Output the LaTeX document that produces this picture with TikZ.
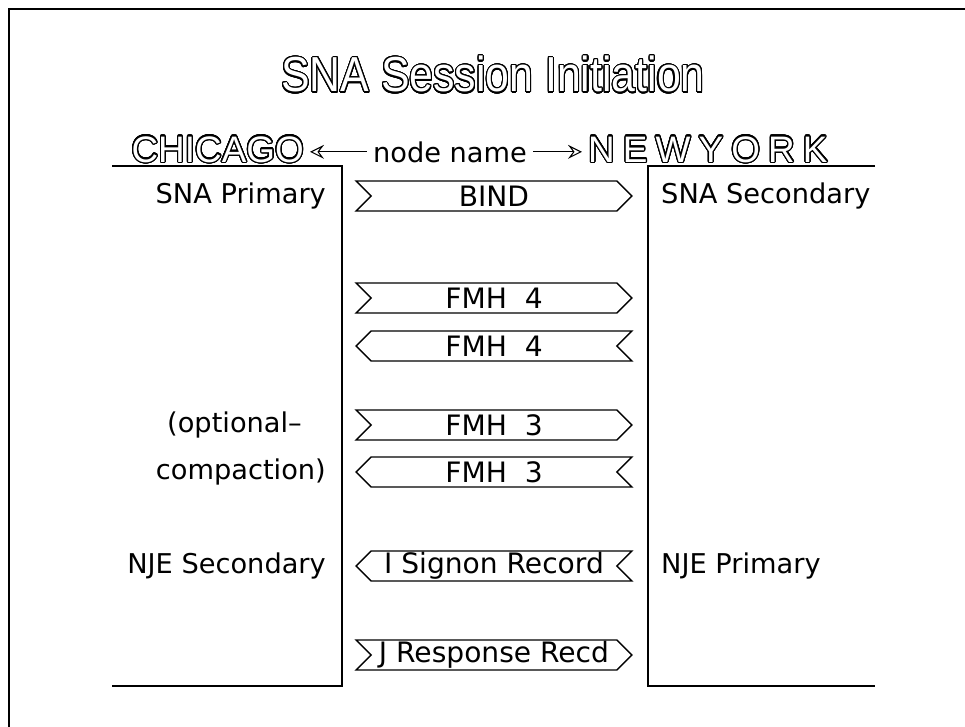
\documentclass[tikz,border=0pt]{standalone}
\usepackage{fontspec}
\setmainfont{DejaVu Sans}
\newfontfamily\headfont{Liberation Sans}
\newfontfamily\wideheadfont{Liberation Sans}[LetterSpace=22]
\usepackage{contour}
\contourlength{0.7pt}
\contournumber{32}
\usetikzlibrary{shapes.symbols, arrows.meta}

\newcommand{\hollow}[1]{\contour{black}{\textcolor{white}{#1}}}

\tikzset{
  msg/.style={signal, draw, line width=0.8pt, minimum width=5.52cm, minimum height=0.6cm,
    inner sep=0pt, font=\fontsize{16}{16}\selectfont},
  tonewyork/.style={msg, signal from=west, signal to=east},
  tochicago/.style={msg, signal from=east, signal to=west},
  role/.style={font=\fontsize{15.5}{15.5}\selectfont},
  host/.style={font=\headfont\fontsize{21}{21}\selectfont},
  ends/.style={-{Stealth[open, length=8pt, width=8pt, inset=3pt]}, line width=0.6pt}
}

\begin{document}
\begin{tikzpicture}[x=0.02cm, y=-0.02cm]
        \useasboundingbox (0,0) rectangle (965,727);
        \draw[line width=1.6pt] (9,727) -- (9,9) -- (965,9);

        \node[font=\headfont\fontsize{28}{28}\selectfont] (title) at (493,75) {\scalebox{0.87}[1]{\hollow{SNA Session Initiation}}};

        \node[host, anchor=base east] (chicago) at (310,162) {\hollow{CHICAGO}};
        \node[role, anchor=base] (nodename) at (450,162) {node name};
        \node[host, anchor=base west] (newyork) at (582,162) {\wideheadfont\hollow{NEWYORK}};
        \draw[ends] (nodename.west) -- (nodename.west -| chicago.east);
        \draw[ends] (nodename.east) -- (nodename.east -| newyork.west);

        \draw[line width=0.8pt] (112,166) -- (342,166) -- (342,686) -- (112,686);
        \draw[line width=0.8pt] (875,166) -- (648,166) -- (648,686) -- (875,686);

        \node[role, anchor=east] (snapri) at (332,196) {SNA Primary};
        \node[role, anchor=west] (snasec) at (655,196) {SNA Secondary};
        \node[role, anchor=east] (opt1) at (308,425) {(optional--};
        \node[role, anchor=east] (opt2) at (332,472) {compaction)};
        \node[role, anchor=east] (njesec) at (332,566) {NJE Secondary};
        \node[role, anchor=west] (njepri) at (655,566) {NJE Primary};

        \node[tonewyork] (bind) at (494,196) {BIND};
        \node[tonewyork] (fmh4a) at (494,298) {FMH\ \ 4};
        \node[tochicago] (fmh4b) at (494,346) {FMH\ \ 4};
        \node[tonewyork] (fmh3a) at (494,425) {FMH\ \ 3};
        \node[tochicago] (fmh3b) at (494,472) {FMH\ \ 3};
        \node[tochicago] (signon) at (494,566) {I Signon Record};
        \node[tonewyork] (resp) at (494,655) {J Response Recd};
\end{tikzpicture}
\end{document}
